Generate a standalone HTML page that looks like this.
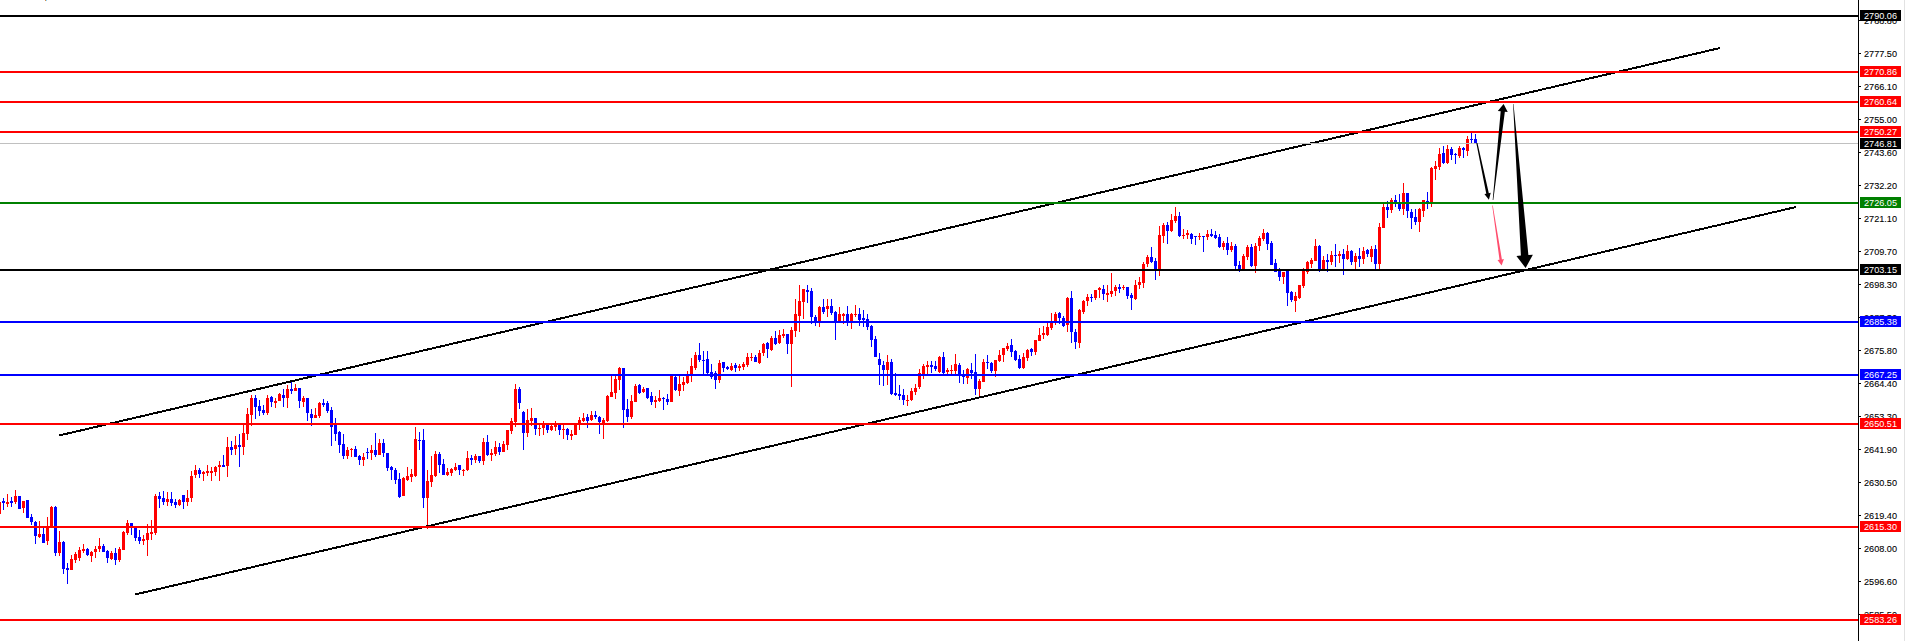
<!DOCTYPE html><html><head><meta charset="utf-8"><style>html,body{margin:0;padding:0;background:#fff;width:1905px;height:641px;overflow:hidden}svg{display:block}text{font-family:"Liberation Sans",sans-serif;font-size:9.6px}</style></head><body>
<svg width="1905" height="641" viewBox="0 0 1905 641">
<rect x="0" y="0" width="1905" height="641" fill="#fff"/>
<path fill="#ff0000" d="M-1 500h1v15h-1zM-2 502h3v12h-3zM7 494h1v13h-1zM6 502h3v2h-3zM15 490h1v14h-1zM14 496h3v6h-3zM23 501h1v12h-1zM22 501h3v7h-3zM39 521h1v17h-1zM38 534h3v3h-3zM47 517h1v28h-1zM46 526h3v15h-3zM51 506h1v20h-1zM50 507h3v19h-3zM59 531h1v25h-1zM58 542h3v11h-3zM71 555h1v15h-1zM70 559h3v11h-3zM75 552h1v11h-1zM74 554h3v6h-3zM79 547h1v14h-1zM78 550h3v8h-3zM83 544h1v9h-1zM82 549h3v2h-3zM91 551h1v11h-1zM90 552h3v4h-3zM95 546h1v12h-1zM94 549h3v3h-3zM99 538h1v14h-1zM98 546h3v3h-3zM111 551h1v9h-1zM110 553h3v6h-3zM119 547h1v15h-1zM118 549h3v11h-3zM123 531h1v19h-1zM122 532h3v18h-3zM127 520h1v15h-1zM126 523h3v10h-3zM143 535h1v10h-1zM142 539h3v2h-3zM147 524h1v32h-1zM146 533h3v7h-3zM151 520h1v20h-1zM150 532h3v2h-3zM155 494h1v41h-1zM154 496h3v37h-3zM167 492h1v14h-1zM166 499h3v3h-3zM179 499h1v7h-1zM178 500h3v5h-3zM187 490h1v16h-1zM186 498h3v4h-3zM191 471h1v31h-1zM190 476h3v22h-3zM195 465h1v13h-1zM194 470h3v5h-3zM203 471h1v10h-1zM202 472h3v2h-3zM207 465h1v11h-1zM206 471h3v2h-3zM211 467h1v14h-1zM210 471h3v2h-3zM215 466h1v10h-1zM214 467h3v5h-3zM219 461h1v20h-1zM218 465h3v2h-3zM227 437h1v40h-1zM226 447h3v19h-3zM235 436h1v19h-1zM234 445h3v4h-3zM243 425h1v30h-1zM242 433h3v14h-3zM247 408h1v32h-1zM246 414h3v20h-3zM251 395h1v31h-1zM250 398h3v17h-3zM267 395h1v20h-1zM266 398h3v15h-3zM275 398h1v10h-1zM274 401h3v2h-3zM279 393h1v8h-1zM278 394h3v7h-3zM287 385h1v23h-1zM286 389h3v9h-3zM295 384h1v7h-1zM294 388h3v3h-3zM303 396h1v11h-1zM302 398h3v4h-3zM315 408h1v10h-1zM314 415h3v3h-3zM319 402h1v16h-1zM318 403h3v13h-3zM347 447h1v12h-1zM346 450h3v6h-3zM351 448h1v9h-1zM350 449h3v1h-3zM363 453h1v13h-1zM362 457h3v3h-3zM371 445h1v15h-1zM370 450h3v3h-3zM379 439h1v16h-1zM378 443h3v12h-3zM403 477h1v19h-1zM402 478h3v18h-3zM407 467h1v14h-1zM406 476h3v4h-3zM411 469h1v13h-1zM410 474h3v3h-3zM415 427h1v50h-1zM414 439h3v37h-3zM427 470h1v59h-1zM426 481h3v17h-3zM431 456h1v31h-1zM430 475h3v7h-3zM435 451h1v26h-1zM434 454h3v22h-3zM447 468h1v8h-1zM446 472h3v3h-3zM451 468h1v8h-1zM450 469h3v4h-3zM455 463h1v8h-1zM454 467h3v3h-3zM463 469h1v7h-1zM462 470h3v1h-3zM467 451h1v20h-1zM466 458h3v12h-3zM475 454h1v9h-1zM474 456h3v4h-3zM483 438h1v27h-1zM482 442h3v19h-3zM491 449h1v12h-1zM490 453h3v2h-3zM495 441h1v15h-1zM494 447h3v7h-3zM503 441h1v11h-1zM502 444h3v8h-3zM507 430h1v20h-1zM506 430h3v15h-3zM511 418h1v16h-1zM510 421h3v10h-3zM515 384h1v43h-1zM514 389h3v33h-3zM527 409h1v28h-1zM526 420h3v13h-3zM531 408h1v18h-1zM530 418h3v3h-3zM539 425h1v11h-1zM538 428h3v1h-3zM543 421h1v14h-1zM542 424h3v4h-3zM551 425h1v6h-1zM550 426h3v4h-3zM555 421h1v10h-1zM554 424h3v3h-3zM563 425h1v14h-1zM562 429h3v1h-3zM571 430h1v10h-1zM570 434h3v2h-3zM575 424h1v11h-1zM574 424h3v11h-3zM579 417h1v13h-1zM578 420h3v5h-3zM583 413h1v9h-1zM582 418h3v3h-3zM591 411h1v10h-1zM590 415h3v5h-3zM603 418h1v21h-1zM602 420h3v4h-3zM607 395h1v27h-1zM606 396h3v25h-3zM611 376h1v21h-1zM610 392h3v5h-3zM615 376h1v23h-1zM614 379h3v14h-3zM619 367h1v23h-1zM618 368h3v12h-3zM631 395h1v24h-1zM630 401h3v16h-3zM635 384h1v18h-1zM634 386h3v16h-3zM643 387h1v6h-1zM642 389h3v3h-3zM655 396h1v12h-1zM654 400h3v2h-3zM659 390h1v12h-1zM658 398h3v3h-3zM671 376h1v26h-1zM670 376h3v26h-3zM679 375h1v21h-1zM678 384h3v7h-3zM683 377h1v14h-1zM682 382h3v3h-3zM687 371h1v13h-1zM686 375h3v8h-3zM691 358h1v24h-1zM690 366h3v9h-3zM695 352h1v18h-1zM694 355h3v13h-3zM719 360h1v23h-1zM718 363h3v17h-3zM731 363h1v8h-1zM730 366h3v4h-3zM739 364h1v7h-1zM738 366h3v2h-3zM743 362h1v8h-1zM742 364h3v3h-3zM747 353h1v14h-1zM746 357h3v8h-3zM751 353h1v8h-1zM750 357h3v1h-3zM759 350h1v14h-1zM758 353h3v10h-3zM763 343h1v13h-1zM762 344h3v9h-3zM771 336h1v15h-1zM770 338h3v12h-3zM779 330h1v14h-1zM778 335h3v8h-3zM783 329h1v9h-1zM782 334h3v2h-3zM791 327h1v60h-1zM790 330h3v14h-3zM795 299h1v38h-1zM794 314h3v17h-3zM799 285h1v47h-1zM798 301h3v15h-3zM803 289h1v30h-1zM802 289h3v13h-3zM819 306h1v21h-1zM818 307h3v14h-3zM827 299h1v18h-1zM826 306h3v3h-3zM839 307h1v14h-1zM838 314h3v7h-3zM843 313h1v11h-1zM842 314h3v2h-3zM851 313h1v16h-1zM850 314h3v7h-3zM855 305h1v12h-1zM854 314h3v1h-3zM887 355h1v30h-1zM886 362h3v8h-3zM907 395h1v11h-1zM906 400h3v1h-3zM911 388h1v13h-1zM910 391h3v9h-3zM915 384h1v11h-1zM914 388h3v4h-3zM919 369h1v20h-1zM918 373h3v14h-3zM923 364h1v15h-1zM922 366h3v9h-3zM927 361h1v13h-1zM926 365h3v2h-3zM939 356h1v17h-1zM938 357h3v15h-3zM947 368h1v6h-1zM946 370h3v2h-3zM951 365h1v9h-1zM950 370h3v1h-3zM955 354h1v20h-1zM954 364h3v7h-3zM967 368h1v16h-1zM966 369h3v9h-3zM979 379h1v17h-1zM978 381h3v8h-3zM983 359h1v23h-1zM982 362h3v20h-3zM995 360h1v17h-1zM994 360h3v11h-3zM999 350h1v12h-1zM998 355h3v6h-3zM1003 348h1v14h-1zM1002 348h3v7h-3zM1007 343h1v8h-1zM1006 346h3v3h-3zM1023 353h1v16h-1zM1022 357h3v11h-3zM1027 349h1v12h-1zM1026 350h3v8h-3zM1035 340h1v15h-1zM1034 340h3v12h-3zM1039 328h1v13h-1zM1038 335h3v6h-3zM1043 326h1v13h-1zM1042 333h3v2h-3zM1047 323h1v13h-1zM1046 327h3v8h-3zM1051 313h1v17h-1zM1050 323h3v5h-3zM1055 312h1v13h-1zM1054 314h3v7h-3zM1067 297h1v35h-1zM1066 298h3v27h-3zM1079 309h1v39h-1zM1078 310h3v33h-3zM1083 300h1v14h-1zM1082 301h3v11h-3zM1087 294h1v12h-1zM1086 297h3v4h-3zM1095 290h1v10h-1zM1094 290h3v8h-3zM1099 287h1v11h-1zM1098 288h3v2h-3zM1107 285h1v17h-1zM1106 293h3v2h-3zM1111 273h1v24h-1zM1110 291h3v3h-3zM1115 285h1v11h-1zM1114 287h3v4h-3zM1123 285h1v5h-1zM1122 287h3v1h-3zM1135 280h1v20h-1zM1134 285h3v14h-3zM1139 277h1v12h-1zM1138 282h3v3h-3zM1143 262h1v26h-1zM1142 264h3v19h-3zM1147 255h1v12h-1zM1146 257h3v7h-3zM1159 226h1v50h-1zM1158 235h3v34h-3zM1163 223h1v20h-1zM1162 225h3v11h-3zM1171 214h1v18h-1zM1170 220h3v11h-3zM1175 207h1v16h-1zM1174 216h3v5h-3zM1183 229h1v10h-1zM1182 235h3v1h-3zM1187 230h1v9h-1zM1186 233h3v2h-3zM1199 233h1v7h-1zM1198 236h3v1h-3zM1207 230h1v10h-1zM1206 234h3v3h-3zM1223 241h1v9h-1zM1222 243h3v4h-3zM1231 242h1v10h-1zM1230 246h3v4h-3zM1243 254h1v16h-1zM1242 256h3v14h-3zM1247 245h1v15h-1zM1246 247h3v10h-3zM1255 243h1v30h-1zM1254 246h3v20h-3zM1259 236h1v15h-1zM1258 238h3v8h-3zM1263 229h1v12h-1zM1262 233h3v6h-3zM1283 272h1v12h-1zM1282 272h3v5h-3zM1295 292h1v20h-1zM1294 296h3v5h-3zM1299 285h1v14h-1zM1298 285h3v13h-3zM1303 268h1v20h-1zM1302 270h3v16h-3zM1307 261h1v13h-1zM1306 262h3v10h-3zM1311 258h1v10h-1zM1310 260h3v4h-3zM1315 239h1v22h-1zM1314 246h3v15h-3zM1323 256h1v14h-1zM1322 260h3v10h-3zM1331 251h1v14h-1zM1330 255h3v7h-3zM1339 251h1v12h-1zM1338 254h3v2h-3zM1347 245h1v15h-1zM1346 251h3v8h-3zM1355 253h1v16h-1zM1354 256h3v6h-3zM1363 247h1v17h-1zM1362 251h3v8h-3zM1371 246h1v16h-1zM1370 249h3v8h-3zM1379 223h1v47h-1zM1378 227h3v37h-3zM1383 204h1v24h-1zM1382 207h3v21h-3zM1391 198h1v15h-1zM1390 200h3v10h-3zM1403 183h1v32h-1zM1402 193h3v16h-3zM1419 208h1v24h-1zM1418 209h3v13h-3zM1423 200h1v17h-1zM1422 200h3v11h-3zM1431 167h1v40h-1zM1430 168h3v34h-3zM1435 161h1v19h-1zM1434 166h3v3h-3zM1439 148h1v22h-1zM1438 154h3v13h-3zM1447 145h1v19h-1zM1446 149h3v14h-3zM1459 146h1v12h-1zM1458 148h3v8h-3zM1467 136h1v20h-1zM1466 139h3v12h-3z"/>
<path fill="#0000ff" d="M3 498h1v12h-1zM2 501h3v2h-3zM11 497h1v10h-1zM10 501h3v2h-3zM19 496h1v13h-1zM18 496h3v13h-3zM27 500h1v18h-1zM26 500h3v18h-3zM31 514h1v11h-1zM30 517h3v5h-3zM35 521h1v23h-1zM34 522h3v14h-3zM43 527h1v16h-1zM42 534h3v9h-3zM55 506h1v50h-1zM54 507h3v46h-3zM63 541h1v33h-1zM62 542h3v27h-3zM67 563h1v21h-1zM66 568h3v2h-3zM87 548h1v8h-1zM86 549h3v6h-3zM103 544h1v8h-1zM102 546h3v6h-3zM107 550h1v13h-1zM106 551h3v7h-3zM115 548h1v17h-1zM114 553h3v7h-3zM131 523h1v12h-1zM130 523h3v3h-3zM135 528h1v13h-1zM134 528h3v10h-3zM139 530h1v14h-1zM138 537h3v4h-3zM159 492h1v16h-1zM158 496h3v3h-3zM163 491h1v14h-1zM162 498h3v4h-3zM171 492h1v14h-1zM170 499h3v4h-3zM175 499h1v9h-1zM174 502h3v3h-3zM183 495h1v14h-1zM182 495h3v7h-3zM199 468h1v10h-1zM198 470h3v4h-3zM223 455h1v12h-1zM222 465h3v2h-3zM231 441h1v14h-1zM230 447h3v3h-3zM239 434h1v33h-1zM238 445h3v2h-3zM255 395h1v24h-1zM254 398h3v9h-3zM259 400h1v16h-1zM258 406h3v5h-3zM263 405h1v10h-1zM262 410h3v3h-3zM271 396h1v11h-1zM270 397h3v5h-3zM283 389h1v18h-1zM282 395h3v3h-3zM291 382h1v12h-1zM290 389h3v2h-3zM299 388h1v20h-1zM298 388h3v13h-3zM307 398h1v23h-1zM306 398h3v15h-3zM311 409h1v17h-1zM310 414h3v4h-3zM323 399h1v8h-1zM322 403h3v2h-3zM327 401h1v12h-1zM326 403h3v8h-3zM331 407h1v39h-1zM330 410h3v17h-3zM335 418h1v23h-1zM334 425h3v9h-3zM339 431h1v22h-1zM338 432h3v13h-3zM343 434h1v25h-1zM342 444h3v12h-3zM355 446h1v11h-1zM354 449h3v8h-3zM359 455h1v10h-1zM358 456h3v4h-3zM367 448h1v11h-1zM366 452h3v1h-3zM375 433h1v24h-1zM374 450h3v5h-3zM383 439h1v18h-1zM382 443h3v10h-3zM387 453h1v18h-1zM386 453h3v15h-3zM391 466h1v14h-1zM390 467h3v3h-3zM395 468h1v16h-1zM394 470h3v10h-3zM399 473h1v25h-1zM398 479h3v18h-3zM419 432h1v18h-1zM418 440h3v1h-3zM423 429h1v79h-1zM422 440h3v58h-3zM439 452h1v21h-1zM438 454h3v11h-3zM443 459h1v16h-1zM442 464h3v11h-3zM459 465h1v10h-1zM458 465h3v5h-3zM471 455h1v10h-1zM470 458h3v2h-3zM479 456h1v7h-1zM478 456h3v5h-3zM487 435h1v21h-1zM486 442h3v13h-3zM499 443h1v12h-1zM498 447h3v5h-3zM519 387h1v22h-1zM518 389h3v14h-3zM523 411h1v39h-1zM522 412h3v21h-3zM535 418h1v17h-1zM534 418h3v11h-3zM547 424h1v9h-1zM546 425h3v5h-3zM559 424h1v11h-1zM558 425h3v5h-3zM567 428h1v12h-1zM566 429h3v6h-3zM587 414h1v14h-1zM586 417h3v4h-3zM595 411h1v8h-1zM594 415h3v2h-3zM599 416h1v18h-1zM598 417h3v5h-3zM623 368h1v60h-1zM622 368h3v42h-3zM627 399h1v23h-1zM626 409h3v8h-3zM639 384h1v10h-1zM638 385h3v8h-3zM647 388h1v11h-1zM646 388h3v10h-3zM651 392h1v13h-1zM650 396h3v6h-3zM663 397h1v13h-1zM662 398h3v1h-3zM667 394h1v11h-1zM666 399h3v3h-3zM675 376h1v15h-1zM674 377h3v13h-3zM699 343h1v19h-1zM698 355h3v5h-3zM703 351h1v23h-1zM702 360h3v1h-3zM707 351h1v23h-1zM706 359h3v14h-3zM711 364h1v15h-1zM710 372h3v5h-3zM715 371h1v18h-1zM714 373h3v7h-3zM723 362h1v10h-1zM722 362h3v6h-3zM727 366h1v4h-1zM726 367h3v2h-3zM735 363h1v9h-1zM734 365h3v3h-3zM755 355h1v7h-1zM754 357h3v5h-3zM767 342h1v16h-1zM766 343h3v6h-3zM775 331h1v14h-1zM774 338h3v6h-3zM787 334h1v20h-1zM786 334h3v10h-3zM807 285h1v18h-1zM806 290h3v2h-3zM811 288h1v36h-1zM810 291h3v26h-3zM815 315h1v11h-1zM814 317h3v4h-3zM823 299h1v15h-1zM822 307h3v5h-3zM831 299h1v16h-1zM830 306h3v7h-3zM835 311h1v29h-1zM834 312h3v10h-3zM847 306h1v20h-1zM846 314h3v7h-3zM859 308h1v18h-1zM858 314h3v6h-3zM863 310h1v17h-1zM862 318h3v2h-3zM867 314h1v16h-1zM866 319h3v8h-3zM871 325h1v22h-1zM870 326h3v14h-3zM875 336h1v21h-1zM874 339h3v18h-3zM879 353h1v32h-1zM878 359h3v6h-3zM883 361h1v25h-1zM882 365h3v5h-3zM891 359h1v36h-1zM890 362h3v32h-3zM895 373h1v23h-1zM894 393h3v2h-3zM899 385h1v15h-1zM898 394h3v2h-3zM903 389h1v16h-1zM902 395h3v5h-3zM931 361h1v12h-1zM930 365h3v2h-3zM935 361h1v10h-1zM934 366h3v3h-3zM943 352h1v23h-1zM942 357h3v16h-3zM959 363h1v20h-1zM958 365h3v10h-3zM963 370h1v14h-1zM962 375h3v2h-3zM971 363h1v16h-1zM970 370h3v3h-3zM975 354h1v41h-1zM974 372h3v17h-3zM987 355h1v14h-1zM986 362h3v1h-3zM991 362h1v11h-1zM990 363h3v8h-3zM1011 339h1v18h-1zM1010 345h3v7h-3zM1015 350h1v11h-1zM1014 351h3v9h-3zM1019 355h1v14h-1zM1018 359h3v9h-3zM1031 348h1v8h-1zM1030 349h3v3h-3zM1059 312h1v12h-1zM1058 313h3v5h-3zM1063 316h1v11h-1zM1062 318h3v8h-3zM1071 291h1v52h-1zM1070 298h3v34h-3zM1075 329h1v20h-1zM1074 332h3v10h-3zM1091 294h1v8h-1zM1090 297h3v1h-3zM1103 285h1v15h-1zM1102 289h3v5h-3zM1119 284h1v9h-1zM1118 287h3v2h-3zM1127 287h1v12h-1zM1126 287h3v9h-3zM1131 293h1v17h-1zM1130 295h3v3h-3zM1151 247h1v16h-1zM1150 257h3v5h-3zM1155 258h1v22h-1zM1154 261h3v8h-3zM1167 222h1v22h-1zM1166 225h3v6h-3zM1179 212h1v25h-1zM1178 216h3v20h-3zM1191 233h1v11h-1zM1190 234h3v5h-3zM1195 236h1v9h-1zM1194 236h3v1h-3zM1203 236h1v16h-1zM1202 236h3v1h-3zM1211 229h1v8h-1zM1210 234h3v2h-3zM1215 231h1v8h-1zM1214 235h3v3h-3zM1219 234h1v14h-1zM1218 237h3v10h-3zM1227 237h1v18h-1zM1226 243h3v7h-3zM1235 244h1v25h-1zM1234 246h3v20h-3zM1239 261h1v11h-1zM1238 265h3v5h-3zM1251 244h1v23h-1zM1250 247h3v19h-3zM1267 232h1v18h-1zM1266 233h3v11h-3zM1271 241h1v24h-1zM1270 243h3v22h-3zM1275 259h1v13h-1zM1274 263h3v9h-3zM1279 268h1v13h-1zM1278 270h3v7h-3zM1287 270h1v36h-1zM1286 270h3v23h-3zM1291 291h1v11h-1zM1290 292h3v8h-3zM1319 245h1v27h-1zM1318 246h3v24h-3zM1327 254h1v18h-1zM1326 260h3v2h-3zM1335 244h1v23h-1zM1334 255h3v1h-3zM1343 249h1v26h-1zM1342 254h3v5h-3zM1351 250h1v15h-1zM1350 251h3v11h-3zM1359 248h1v19h-1zM1358 256h3v3h-3zM1367 249h1v8h-1zM1366 250h3v4h-3zM1375 245h1v25h-1zM1374 249h3v15h-3zM1387 201h1v17h-1zM1386 207h3v3h-3zM1395 195h1v12h-1zM1394 200h3v2h-3zM1399 194h1v17h-1zM1398 204h3v5h-3zM1407 193h1v25h-1zM1406 193h3v18h-3zM1411 209h1v20h-1zM1410 212h3v6h-3zM1415 209h1v16h-1zM1414 217h3v5h-3zM1427 192h1v17h-1zM1426 201h3v2h-3zM1443 146h1v18h-1zM1442 153h3v10h-3zM1451 147h1v13h-1zM1450 149h3v6h-3zM1455 153h1v11h-1zM1454 154h3v1h-3zM1463 147h1v11h-1zM1462 148h3v2h-3zM1471 133h1v10h-1zM1470 139h3v1h-3zM1475 134h1v10h-1zM1474 139h3v4h-3z"/>
<g>
<line x1="59" y1="435.5" x2="1720" y2="48" stroke="#000" stroke-width="2" shape-rendering="crispEdges"/>
<line x1="135" y1="594.5" x2="1796" y2="207" stroke="#000" stroke-width="2" shape-rendering="crispEdges"/>
</g>
<rect x="0" y="15" width="1858" height="2" fill="#000000"/>
<rect x="0" y="71" width="1858" height="2" fill="#ff0000"/>
<rect x="0" y="101" width="1858" height="2" fill="#ff0000"/>
<rect x="0" y="131" width="1858" height="2" fill="#ff0000"/>
<rect x="0" y="143" width="1858" height="1" fill="#c0c0c0"/>
<rect x="0" y="202" width="1858" height="2" fill="#008000"/>
<rect x="0" y="269" width="1858" height="2" fill="#000000"/>
<rect x="0" y="321" width="1858" height="2" fill="#0000ff"/>
<rect x="0" y="374" width="1858" height="2" fill="#0000ff"/>
<rect x="0" y="423" width="1858" height="2" fill="#ff0000"/>
<rect x="0" y="526" width="1858" height="2" fill="#ff0000"/>
<rect x="0" y="619" width="1858" height="2" fill="#ff0000"/>
<polygon fill="#000" points="1476.31,143.12 1486.28,193.71 1484.38,194.11 1488.90,199.80 1490.74,192.77 1488.83,193.17 1477.49,142.88"/>
<polygon fill="#ff4d6d" points="1492.20,205.54 1499.51,259.75 1497.49,260.06 1501.60,265.50 1503.91,259.08 1501.89,259.39 1492.80,205.46"/>
<polygon fill="#000" points="1493.30,200.03 1504.85,111.78 1507.74,112.10 1503.60,104.00 1497.80,111.01 1500.68,111.32 1492.70,199.97"/>
<polygon fill="#000" points="1513.10,104.01 1520.91,255.62 1516.42,255.95 1525.60,268.00 1532.88,254.72 1528.39,255.06 1513.50,103.99"/>
<rect x="45" y="0" width="1" height="1" fill="#d88848"/><rect x="46" y="0" width="1" height="1" fill="#88d8ff"/>
<rect x="1858" y="0" width="1" height="641" fill="#000"/>
<rect x="1904" y="0" width="1" height="641" fill="#e2e2e2"/>
<rect x="1859" y="20" width="2" height="1" fill="#000"/>
<text x="1864" y="24" textLength="33" lengthAdjust="spacingAndGlyphs" fill="#000" stroke="#000" stroke-width="0.1">2788.80</text>
<rect x="1859" y="53" width="2" height="1" fill="#000"/>
<text x="1864" y="57" textLength="33" lengthAdjust="spacingAndGlyphs" fill="#000" stroke="#000" stroke-width="0.1">2777.50</text>
<rect x="1859" y="86" width="2" height="1" fill="#000"/>
<text x="1864" y="90" textLength="33" lengthAdjust="spacingAndGlyphs" fill="#000" stroke="#000" stroke-width="0.1">2766.10</text>
<rect x="1859" y="119" width="2" height="1" fill="#000"/>
<text x="1864" y="123" textLength="33" lengthAdjust="spacingAndGlyphs" fill="#000" stroke="#000" stroke-width="0.1">2755.00</text>
<rect x="1859" y="152" width="2" height="1" fill="#000"/>
<text x="1864" y="156" textLength="33" lengthAdjust="spacingAndGlyphs" fill="#000" stroke="#000" stroke-width="0.1">2743.60</text>
<rect x="1859" y="185" width="2" height="1" fill="#000"/>
<text x="1864" y="189" textLength="33" lengthAdjust="spacingAndGlyphs" fill="#000" stroke="#000" stroke-width="0.1">2732.20</text>
<rect x="1859" y="218" width="2" height="1" fill="#000"/>
<text x="1864" y="222" textLength="33" lengthAdjust="spacingAndGlyphs" fill="#000" stroke="#000" stroke-width="0.1">2721.10</text>
<rect x="1859" y="251" width="2" height="1" fill="#000"/>
<text x="1864" y="255" textLength="33" lengthAdjust="spacingAndGlyphs" fill="#000" stroke="#000" stroke-width="0.1">2709.70</text>
<rect x="1859" y="284" width="2" height="1" fill="#000"/>
<text x="1864" y="288" textLength="33" lengthAdjust="spacingAndGlyphs" fill="#000" stroke="#000" stroke-width="0.1">2698.30</text>
<rect x="1859" y="317" width="2" height="1" fill="#000"/>
<text x="1864" y="321" textLength="33" lengthAdjust="spacingAndGlyphs" fill="#000" stroke="#000" stroke-width="0.1">2687.30</text>
<rect x="1859" y="350" width="2" height="1" fill="#000"/>
<text x="1864" y="354" textLength="33" lengthAdjust="spacingAndGlyphs" fill="#000" stroke="#000" stroke-width="0.1">2675.80</text>
<rect x="1859" y="383" width="2" height="1" fill="#000"/>
<text x="1864" y="387" textLength="33" lengthAdjust="spacingAndGlyphs" fill="#000" stroke="#000" stroke-width="0.1">2664.40</text>
<rect x="1859" y="416" width="2" height="1" fill="#000"/>
<text x="1864" y="420" textLength="33" lengthAdjust="spacingAndGlyphs" fill="#000" stroke="#000" stroke-width="0.1">2653.30</text>
<rect x="1859" y="449" width="2" height="1" fill="#000"/>
<text x="1864" y="453" textLength="33" lengthAdjust="spacingAndGlyphs" fill="#000" stroke="#000" stroke-width="0.1">2641.90</text>
<rect x="1859" y="482" width="2" height="1" fill="#000"/>
<text x="1864" y="486" textLength="33" lengthAdjust="spacingAndGlyphs" fill="#000" stroke="#000" stroke-width="0.1">2630.50</text>
<rect x="1859" y="515" width="2" height="1" fill="#000"/>
<text x="1864" y="519" textLength="33" lengthAdjust="spacingAndGlyphs" fill="#000" stroke="#000" stroke-width="0.1">2619.40</text>
<rect x="1859" y="548" width="2" height="1" fill="#000"/>
<text x="1864" y="552" textLength="33" lengthAdjust="spacingAndGlyphs" fill="#000" stroke="#000" stroke-width="0.1">2608.00</text>
<rect x="1859" y="581" width="2" height="1" fill="#000"/>
<text x="1864" y="585" textLength="33" lengthAdjust="spacingAndGlyphs" fill="#000" stroke="#000" stroke-width="0.1">2596.60</text>
<rect x="1859" y="614" width="2" height="1" fill="#000"/>
<text x="1864" y="618" textLength="33" lengthAdjust="spacingAndGlyphs" fill="#000" stroke="#000" stroke-width="0.1">2585.50</text>
<rect x="1860" y="10" width="41" height="11" fill="#000000"/>
<text x="1864" y="19" textLength="33" lengthAdjust="spacingAndGlyphs" fill="#fff">2790.06</text>
<rect x="1860" y="66" width="41" height="11" fill="#ff0000"/>
<text x="1864" y="75" textLength="33" lengthAdjust="spacingAndGlyphs" fill="#fff">2770.86</text>
<rect x="1860" y="96" width="41" height="11" fill="#ff0000"/>
<text x="1864" y="105" textLength="33" lengthAdjust="spacingAndGlyphs" fill="#fff">2760.64</text>
<rect x="1860" y="126" width="41" height="11" fill="#ff0000"/>
<text x="1864" y="135" textLength="33" lengthAdjust="spacingAndGlyphs" fill="#fff">2750.27</text>
<rect x="1860" y="138" width="41" height="11" fill="#000000"/>
<text x="1864" y="147" textLength="33" lengthAdjust="spacingAndGlyphs" fill="#fff">2746.81</text>
<rect x="1860" y="197" width="41" height="11" fill="#008000"/>
<text x="1864" y="206" textLength="33" lengthAdjust="spacingAndGlyphs" fill="#fff">2726.05</text>
<rect x="1860" y="264" width="41" height="11" fill="#000000"/>
<text x="1864" y="273" textLength="33" lengthAdjust="spacingAndGlyphs" fill="#fff">2703.15</text>
<rect x="1860" y="316" width="41" height="11" fill="#0000ff"/>
<text x="1864" y="325" textLength="33" lengthAdjust="spacingAndGlyphs" fill="#fff">2685.38</text>
<rect x="1860" y="369" width="41" height="11" fill="#0000ff"/>
<text x="1864" y="378" textLength="33" lengthAdjust="spacingAndGlyphs" fill="#fff">2667.25</text>
<rect x="1860" y="418" width="41" height="11" fill="#ff0000"/>
<text x="1864" y="427" textLength="33" lengthAdjust="spacingAndGlyphs" fill="#fff">2650.51</text>
<rect x="1860" y="521" width="41" height="11" fill="#ff0000"/>
<text x="1864" y="530" textLength="33" lengthAdjust="spacingAndGlyphs" fill="#fff">2615.30</text>
<rect x="1860" y="614" width="41" height="11" fill="#ff0000"/>
<text x="1864" y="623" textLength="33" lengthAdjust="spacingAndGlyphs" fill="#fff">2583.26</text>
</svg></body></html>
